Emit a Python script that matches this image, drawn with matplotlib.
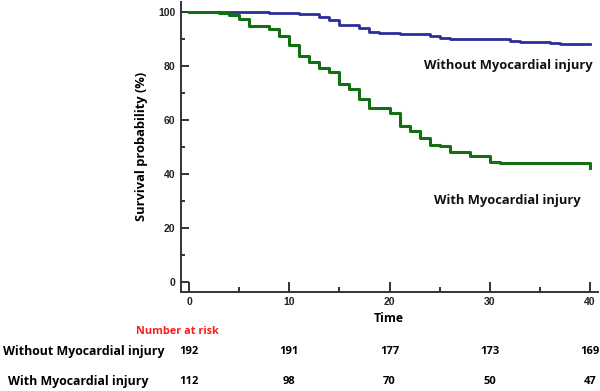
import numpy as np
import matplotlib
matplotlib.use("Agg")
import matplotlib.pyplot as plt
import matplotlib.transforms as mtransforms

# Kaplan-Meier step curves (time, survival %)
t_without = [0, 8, 11, 13, 14, 15, 17, 18, 19, 21, 24, 25, 26, 32, 33, 36, 37, 40]
s_without = [100, 99.5, 99, 98, 97, 95.2, 94, 92.6, 92.2, 91.6, 91, 90.3, 90, 89.2, 88.8, 88.4, 88, 88]

t_with = [0, 3, 4, 5, 6, 8, 9, 10, 11, 12, 13, 14, 15, 16, 17, 18, 20, 21, 22, 23,
          24, 25, 26, 28, 30, 31, 40, 40]
s_with = [100, 99.5, 98.7, 97.3, 94.6, 93.7, 91, 87.5, 83.7, 81.4, 79.3, 77.5, 73.1,
          71.3, 67.7, 64.2, 62.3, 57.8, 55.8, 53.2, 50.8, 50.1, 48.1, 46.6, 44.4, 43.8, 43.8, 42]

risk_times = [0, 10, 20, 30, 40]
risk_without = [192, 191, 177, 173, 169]
risk_with = [112, 98, 70, 50, 47]

blue = "#2d2d9b"
green = "#127012"
label_font = "Open Sans"
tick_font = "Liberation Sans"

fig = plt.figure(figsize=(6, 3.91), dpi=100)
ax = fig.add_axes([181 / 600, 1 - 291.7 / 391, 417 / 600, 290 / 391])

ax.plot(t_without, s_without, drawstyle="steps-post", color=blue, lw=2.0)
ax.plot(t_with, s_with, drawstyle="steps-post", color=green, lw=2.2)

ax.set_xlim(-0.8, 40.8)
ax.set_ylim(-3.7, 103.7)

for side in ["top", "right"]:
    ax.spines[side].set_visible(False)
for side in ["left", "bottom"]:
    ax.spines[side].set_color("#333333")
    ax.spines[side].set_linewidth(1.4)

ax.set_xticks([0, 10, 20, 30, 40])
ax.set_xticks([5, 15, 25, 35], minor=True)
ax.set_yticks([0, 20, 40, 60, 80, 100])
ax.set_yticks([10, 30, 50, 70, 90], minor=True)
ax.tick_params(axis="x", which="major", direction="in", length=7, width=1.4, color="#333333", pad=4)
ax.tick_params(axis="x", which="minor", direction="in", length=3.5, width=1.4, color="#333333")
ax.tick_params(axis="y", which="major", direction="in", length=6, width=1.4, color="#333333", pad=4)
ax.tick_params(axis="y", which="minor", direction="in", length=3, width=1.4, color="#333333")
for lab in ax.get_xticklabels() + ax.get_yticklabels():
    lab.set_fontfamily(tick_font)
    lab.set_fontweight("bold")
    lab.set_fontsize(7.5)
    lab.set_color("#222222")

ax.set_ylabel("Survival probability (%)", fontfamily=label_font, fontweight="bold",
              fontsize=9.3, labelpad=7)

ax.text(40.3, 80, "Without Myocardial injury", ha="right", va="center",
        fontfamily=label_font, fontweight="bold", fontsize=9.3, color="#111111")
ax.text(31.8, 30.2, "With Myocardial injury", ha="center", va="center",
        fontfamily=label_font, fontweight="bold", fontsize=9.3, color="#111111")

# risk table below the axis, x from data, y in figure fraction
tr = mtransforms.blended_transform_factory(ax.transData, fig.transFigure)
fig.text(389 / 600, 1 - 318 / 391, "Time", ha="center", va="center",
         fontfamily=label_font, fontweight="bold", fontsize=8.8)
fig.text(136 / 600, 1 - 331 / 391, "Number at risk", ha="left", va="center",
         fontfamily=label_font, fontweight="bold", fontsize=7.8, color="#ff1a1a")

row_y = [1 - 352 / 391, 1 - 381 / 391]
fig.text(3 / 600, row_y[0], "Without Myocardial injury", ha="left", va="center",
         fontfamily=label_font, fontweight="bold", fontsize=8.9)
fig.text(8 / 600, row_y[1], "With Myocardial injury", ha="left", va="center",
         fontfamily=label_font, fontweight="bold", fontsize=8.9)
for t, n1, n2 in zip(risk_times, risk_without, risk_with):
    ax.text(t, row_y[0], str(n1), transform=tr, ha="center", va="center",
            fontfamily=label_font, fontweight="bold", fontsize=8)
    ax.text(t, row_y[1], str(n2), transform=tr, ha="center", va="center",
            fontfamily=label_font, fontweight="bold", fontsize=8)

fig.savefig("out.png", dpi=100)
